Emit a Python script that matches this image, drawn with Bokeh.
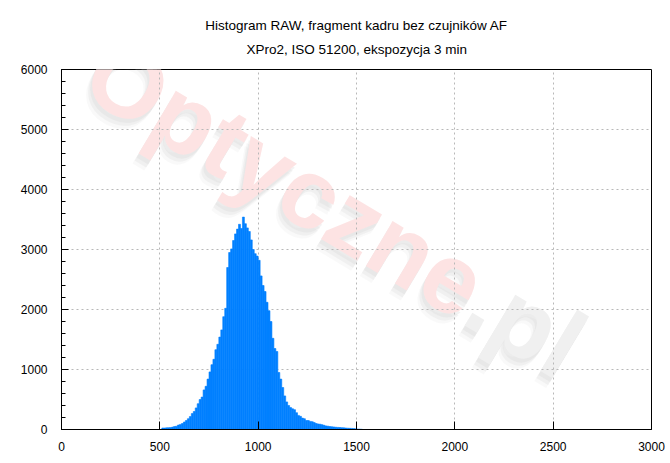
from bokeh.plotting import figure
from bokeh.models import Range1d, FixedTicker, ColumnDataSource
from bokeh.core.properties import value
from bokeh.embed import file_html
from bokeh.resources import INLINE
import math

# ---- data ----
title_line1 = "Histogram RAW, fragment kadru bez czujników AF"
title_line2 = "XPro2, ISO 51200, ekspozycja 3 min"
watermark_main = "Optyczne"
watermark_tail = ".pl"

bin_width = 10
bin_left = list(range(510, 1530, 10))
counts = [
    25, 25, 28, 30, 32, 40, 50, 55, 75, 85,
    100, 125, 150, 180, 215, 265, 300, 360, 430, 500,
    540, 660, 720, 840, 960, 1080, 1170, 1330, 1420, 1540,
    1660, 1880, 2020, 2700, 2950, 3010, 3150, 3260, 3340, 3420,
    3350, 3540, 3430, 3360, 3300, 3160, 3000, 2930, 2890, 2820,
    2560, 2400, 2300, 2120, 1980, 1800, 1520, 1350, 1300, 950,
    840, 700, 560, 460, 400, 365, 345, 330, 280, 235,
    220, 190, 180, 150, 150, 135, 130, 115, 100, 92,
    88, 80, 70, 60, 55, 48, 45, 42, 38, 35,
    33, 30, 28, 25, 22, 20, 18, 15, 12, 8,
    6, 4,
]

x_ticks = [0, 500, 1000, 1500, 2000, 2500, 3000]
y_ticks = [0, 1000, 2000, 3000, 4000, 5000, 6000]
y_minor = [v for v in range(0, 6001, 200)]

src = ColumnDataSource(dict(
    left=bin_left,
    right=[b + bin_width for b in bin_left],
    top=counts,
    bottom=[0] * len(counts),
))

p = figure(width=670, height=463, output_backend="svg", toolbar_location=None,
           x_range=Range1d(0, 3000), y_range=Range1d(0, 6000),
           min_border_left=61, min_border_right=19, min_border_top=69,
           min_border_bottom=34)

p.background_fill_color = "white"
p.border_fill_color = "white"
p.outline_line_color = "black"
p.outline_line_width = 1

font = "Liberation Sans"

# two-line title; the second line is indented with no-break spaces so both
# lines appear centred over the plot
indent = "\u00a0" * 11
p.title.text = title_line1 + "\n" + indent + title_line2
p.title.align = "center"
p.title.text_font = font
p.title.text_font_size = "13.5px"
p.title.text_font_style = "normal"
p.title.text_color = "#000000"
p.title.text_line_height = 1.6
p.title.standoff = 26

# watermark (behind grid and bars)
wm_angle = -31 * math.pi / 180
wm_x, wm_y = [2112], [2283]
wm_kw = dict(angle=wm_angle, text_font=value(font), text_font_style="bold",
             text_font_size="99px", text_baseline="alphabetic", level="image")
for dx, dy, a in ((-2, 4, 0.3), (-4, 7, 0.25), (-6, 10, 0.15)):
    p.text(x=wm_x, y=wm_y, text=[watermark_main], text_align="right",
           text_color="#d8d8d8", text_alpha=a, x_offset=dx, y_offset=dy, **wm_kw)
    p.text(x=wm_x, y=wm_y, text=[watermark_tail], text_align="left",
           text_color="#d8d8d8", text_alpha=a, x_offset=dx, y_offset=dy, **wm_kw)
p.text(x=wm_x, y=wm_y, text=[watermark_main], text_align="right",
       text_color="#fde3e3", **wm_kw)
p.text(x=wm_x, y=wm_y, text=[watermark_tail], text_align="left",
       text_color="#f0f0f0", **wm_kw)

# histogram bars
p.quad(left="left", right="right", top="top", bottom="bottom", source=src,
       fill_color="#0080ff", line_color="#0080ff", line_width=0.6)

# axes
p.xaxis.ticker = FixedTicker(ticks=x_ticks)
p.yaxis.ticker = FixedTicker(ticks=y_ticks, minor_ticks=y_minor)
for ax in (p.xaxis[0], p.yaxis[0]):
    ax.axis_line_color = "black"
    ax.major_tick_line_color = "black"
    ax.major_tick_out = 0
    ax.major_label_text_font = font
    ax.major_label_text_font_size = "12px"
    ax.major_label_text_color = "#000000"
p.xaxis.major_tick_in = 8
p.xaxis.minor_tick_line_color = None
p.xaxis.major_label_standoff = 12
p.yaxis.major_tick_in = 7
p.yaxis.minor_tick_in = 4
p.yaxis.minor_tick_out = 0
p.yaxis.minor_tick_line_color = "black"
p.yaxis.major_label_standoff = 14

# grid
for g in (p.xgrid[0], p.ygrid[0]):
    g.grid_line_color = "#b8b8b8"
    g.grid_line_dash = "2 3"
    g.grid_line_width = 1

open("out.html", "w").write(file_html(p, INLINE))
